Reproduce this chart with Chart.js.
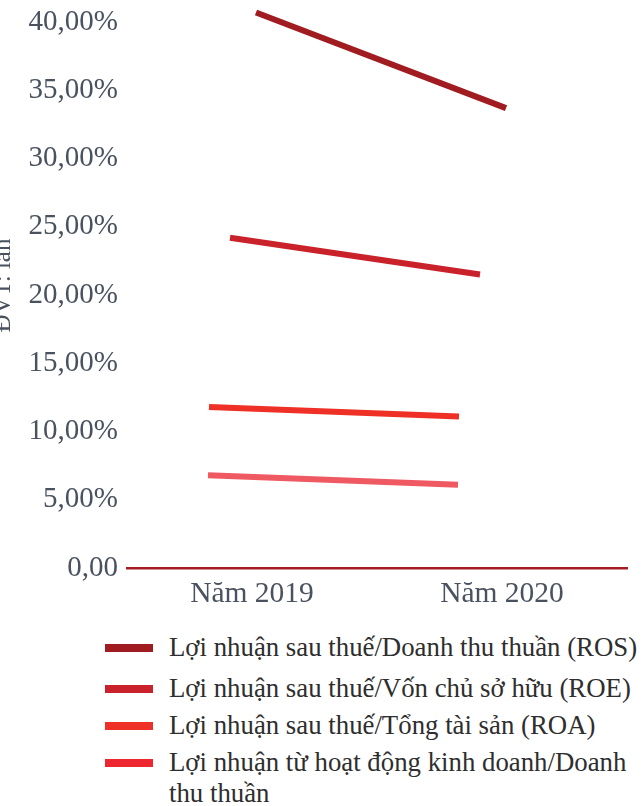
<!DOCTYPE html>
<html>
<head>
<meta charset="utf-8">
<script src="https://cdn.jsdelivr.net/npm/chart.js@4/dist/chart.umd.min.js"></script>
<style>
  html, body { margin: 0; padding: 0; background: #fff; }
  #wrap { position: relative; width: 642px; height: 806px; overflow: hidden; background: #fff; }
  #cv { position: absolute; left: -12px; top: 0; }
  #legend { position: absolute; left: 105px; top: 632px; font-family: 'Liberation Serif', 'Times New Roman', serif; font-size: 26.8px; color: #2e2e2e; }
  .item { display: flex; align-items: flex-start; margin-bottom: 6px; }
  .item:first-child { margin-bottom: 10px; }
  .sw { width: 48px; height: 8px; margin-top: 12px; margin-right: 16px; flex: none; }
  .txt { line-height: 31px; white-space: nowrap; }
</style>
</head>
<body>
<div id="wrap">
  <canvas id="cv" width="654" height="620"></canvas>
  <div id="legend"></div>
</div>
<script>
// ---- data ----
const categories = ['Năm 2019', 'Năm 2020'];
const seriesNames = [
  ['Lợi nhuận sau thuế/Doanh thu thuần (ROS)'],
  ['Lợi nhuận sau thuế/Vốn chủ sở hữu (ROE)'],
  ['Lợi nhuận sau thuế/Tổng tài sản (ROA)'],
  ['Lợi nhuận từ hoạt động kinh doanh/Doanh', 'thu thuần']
];
const rosValues = [40.7, 33.7];
const roeValues = [24.2, 21.5];
const roaValues = [11.8, 11.1];
const opValues  = [6.8, 6.1];
const yTickValues = [0, 5, 10, 15, 20, 25, 30, 35, 40];
const yAxisTitle = 'ĐVT: lần';

// ---- styles ----
const lineColors   = ['#A11C21', '#C9222B', '#EE3026', '#EF5962'];
const legendColors = ['#A11C21', '#C9222B', '#EE3026', '#ED2630'];
const depthShift   = [4, -22, -43, -44];   // pseudo-3D depth offset (style)
const serif = "'Liberation Serif', 'Times New Roman', serif";

const seriesValues = [rosValues, roeValues, roaValues, opValues];
const datasets = seriesValues.map((vals, i) => ({
  label: seriesNames[i].join(' '),
  data: vals,
  borderColor: lineColors[i],
  backgroundColor: lineColors[i],
  borderWidth: 6,
  borderCapStyle: 'butt',
  pointRadius: 0,
  pointHoverRadius: 0,
  tension: 0,
  fill: false,
  clip: false
}));

const depthPlugin = {
  id: 'depth',
  beforeDatasetDraw(chart, args) {
    chart.ctx.save();
    chart.ctx.translate(depthShift[args.index] || 0, 0);
  },
  afterDatasetDraw(chart) {
    chart.ctx.restore();
  }
};

new Chart(document.getElementById('cv'), {
  type: 'line',
  data: { labels: categories, datasets },
  plugins: [depthPlugin],
  options: {
    responsive: false,
    animation: false,
    devicePixelRatio: 1,
    layout: { padding: { top: 3, right: 15, bottom: 9, left: 0 } },
    plugins: { legend: { display: false }, tooltip: { enabled: false } },
    scales: {
      x: {
        type: 'category',
        offset: true,
        grid: { display: false, drawTicks: false },
        border: { display: true, color: '#A51C24', width: 2.5 },
        ticks: { color: '#4a5260', padding: 9, font: { family: serif, size: 29.5 } },
        afterFit(s) { s.height = 43; s.paddingLeft = 0; s.paddingRight = 0; }
      },
      y: {
        min: 0,
        max: 41.4,
        grid: { display: false, drawTicks: false },
        border: { display: false },
        afterBuildTicks(s) { s.ticks = yTickValues.map(v => ({ value: v })); },
        ticks: {
          color: '#4a5260',
          padding: 9,
          font: { family: serif, size: 29 },
          callback: v => v === 0 ? '0,00' : v.toFixed(2).replace('.', ',') + '%'
        },
        title: {
          display: true,
          text: yAxisTitle,
          color: '#4a5260',
          font: { family: serif, size: 25 },
          padding: { top: 0, bottom: 0 }
        },
        afterFit(s) { s.width = 139; s.paddingTop = 0; s.paddingBottom = 0; }
      }
    }
  }
});

// ---- legend (HTML) ----
const lg = document.getElementById('legend');
seriesNames.forEach((name, i) => {
  const it = document.createElement('div');
  it.className = 'item';
  const sw = document.createElement('div');
  sw.className = 'sw';
  sw.style.background = legendColors[i];
  const tx = document.createElement('div');
  tx.className = 'txt';
  name.forEach((ln, j) => {
    if (j) tx.appendChild(document.createElement('br'));
    tx.appendChild(document.createTextNode(ln));
  });
  it.appendChild(sw);
  it.appendChild(tx);
  lg.appendChild(it);
});
</script>
</body>
</html>
